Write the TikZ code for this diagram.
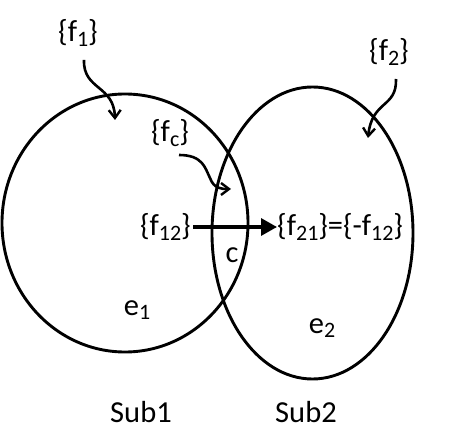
\documentclass[tikz,border=0pt]{standalone}
\usepackage{fontspec}
\setmainfont{Carlito}
\usetikzlibrary{arrows.meta}
\newcommand\lowsub[1]{\raisebox{-0.3ex}{\fontsize{22}{24}\selectfont #1}}
\tikzset{
  lbl/.style={inner sep=0pt, font=\fontsize{30.5}{33}\selectfont},
  ring/.style={line width=2.9pt},
  bent/.style={line width=2.6pt, -{Straight Barb[length=8pt,width=12pt,line width=2.4pt]}},
  flow/.style={line width=3.3pt, -{Triangle[length=16pt,width=17pt]}}
}
\begin{document}
\begin{tikzpicture}[x=1pt,y=-1pt]
\useasboundingbox (0,0) rectangle (450,446);
% subdomains
\draw[ring] (125,223) ellipse [x radius=123, y radius=129];
\draw[ring] (312.5,233) ellipse [x radius=100.5, y radius=146];
% labels
\node[lbl] (f1) at (78,33) {\{f\lowsub{1}\}};
\node[lbl] (f2) at (389,52) {\{f\lowsub{2}\}};
\node[lbl] (fc) at (170,133) {\{f\lowsub{c}\}};
\node[lbl, anchor=east] (f12) at (191,227) {\{f\lowsub{12}\}};
\node[lbl, anchor=west] (f21) at (277,227) {\{f\lowsub{21}\}=\{-f\lowsub{12}\}};
\node[lbl] (c) at (232,255) {c};
\node[lbl] (e1) at (137,310) {e\lowsub{1}};
\node[lbl] (e2) at (322,328) {e\lowsub{2}};
\node[lbl] (sub1) at (141,412) {Sub1};
\node[lbl] (sub2) at (306,412) {Sub2};
% arrow ends
\coordinate (a1s) at (84,60);
\coordinate (a1e) at (115,120);
\coordinate (a2s) at (396,79);
\coordinate (a2e) at (368,138);
\coordinate (acs) at (179,155);
\coordinate (acm) at (210,178);
\coordinate (ace) at (231,189);
% arrows
\draw[bent] (a1s) .. controls (83,90) and (114,85) .. (a1e);
\draw[bent] (a2s) .. controls (397,108) and (372,100) .. (a2e);
\draw[bent] (acs) .. controls (203,155) and (205,168) .. (acm) .. controls (214,189) and (222,189) .. (ace);
\draw[flow] (f12.east) ++(2,0) -- (f21.west);
\end{tikzpicture}
\end{document}
